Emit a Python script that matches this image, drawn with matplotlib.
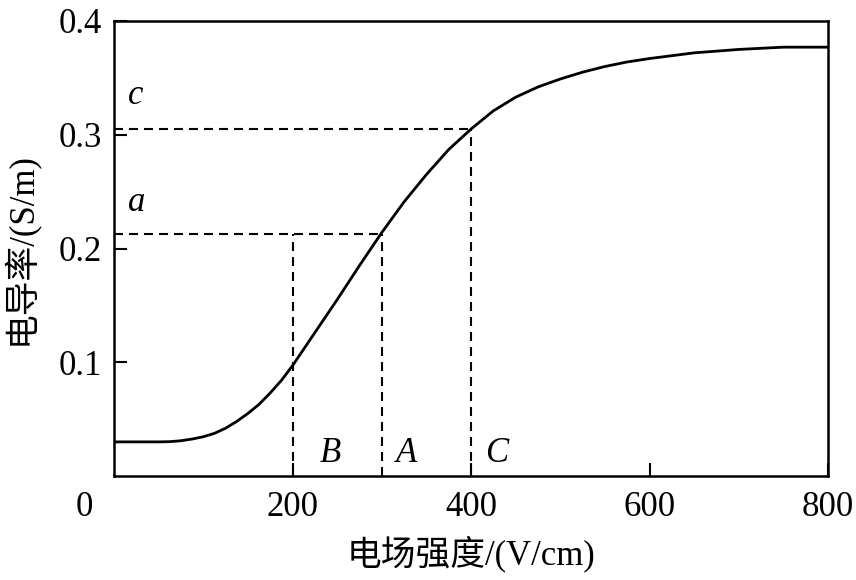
import matplotlib.pyplot as plt

plt.rcParams['font.family'] = ['Liberation Serif', 'Noto Sans CJK SC']

# curve
field = [0, 25, 50, 62.5, 75, 87.5, 100, 112.5, 125, 137.5, 150, 162.5, 175, 187.5,
         200, 225, 250, 275, 300, 325, 350, 375, 400, 425, 450, 475, 500, 525, 550,
         575, 600, 650, 700, 750, 800]
cond = [0.030, 0.030, 0.030, 0.0302, 0.031, 0.0325, 0.0345, 0.0375, 0.042, 0.048,
        0.055, 0.063, 0.073, 0.084, 0.097, 0.126, 0.155, 0.185, 0.214, 0.241, 0.265,
        0.287, 0.305, 0.321, 0.333, 0.342, 0.349, 0.355, 0.360, 0.364, 0.367, 0.372,
        0.375, 0.377, 0.377]

xticks = [200, 400, 600, 800]
yticks = [0.1, 0.2, 0.3, 0.4]

level_a = 0.213
level_c = 0.305
x_b, x_a, x_c = 200, 300, 400

fig = plt.figure(figsize=(8.56, 5.80), dpi=100)
ax = fig.add_axes([0.1332, 0.1793, 0.8341, 0.7845])

ax.plot(field, cond, color='black', lw=2)

dash = dict(color='black', lw=1.5, ls=(0, (4.3, 2.9)))
ax.plot([0, x_a], [level_a, level_a], **dash)
ax.plot([x_b, x_b], [0, level_a], **dash)
ax.plot([x_a, x_a], [0, level_a], **dash)
ax.plot([0, x_c], [level_c, level_c], **dash)
ax.plot([x_c, x_c], [0, level_c], **dash)

lab = dict(fontsize=25, style='italic', family='Liberation Serif')
ax.text(16, 0.327, 'c', **lab)
ax.text(16, 0.233, 'a', **lab)
ax.text(230, 0.012, 'B', **lab)
ax.text(316, 0.012, 'A', **lab)
ax.text(416, 0.012, 'C', **lab)

ax.set_xlim(0, 800)
ax.set_ylim(0, 0.4)
ax.set_xticks(xticks)
ax.set_yticks(yticks)
ax.set_yticklabels(['0.1', '0.2', '0.3', '0.4'])
ax.tick_params(direction='in', length=9.5, width=1.5, labelsize=25)
ax.tick_params(axis='x', pad=11)
ax.tick_params(axis='y', pad=9)
ax.text(-0.03, -0.07, '0', transform=ax.transAxes, fontsize=25,
        ha='right', va='center')
for s in ax.spines.values():
    s.set_linewidth(1.8)

ax.set_xlabel('电场强度/(V/cm)', fontsize=25, labelpad=8)
ax.set_ylabel('电导率/(S/m)', fontsize=25, labelpad=14)

fig.savefig('out.png', dpi=100)
